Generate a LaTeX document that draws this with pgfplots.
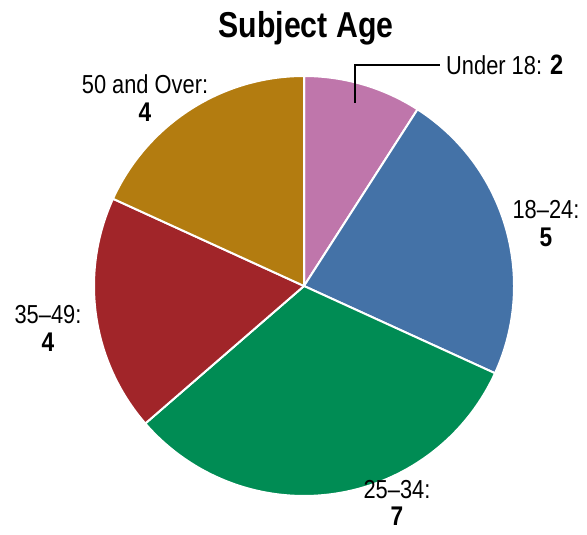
\documentclass[border=0pt]{standalone}
\usepackage{fontspec}
\usepackage{pgfplots}
\usepackage{pgfplotstable}
\pgfplotsset{compat=1.18}
\setmainfont{Liberation Sans}
\newfontfamily\narrow[FakeStretch=0.84]{Liberation Sans}
\definecolor{cpink}{RGB}{191,118,171}
\definecolor{cblue}{RGB}{68,114,167}
\definecolor{cgreen}{RGB}{0,140,84}
\definecolor{cred}{RGB}{161,37,41}
\definecolor{cgold}{RGB}{179,124,16}
\pgfplotstableread{
label value
Under18 2
18-24 5
25-34 7
35-49 4
50plus 4
}\agedata
\begin{document}
\begin{tikzpicture}
% read values and compute cumulative angles (start at 90 deg, clockwise)
\pgfplotstablegetelem{0}{value}\of\agedata\global\let\vA\pgfplotsretval
\pgfplotstablegetelem{1}{value}\of\agedata\global\let\vB\pgfplotsretval
\pgfplotstablegetelem{2}{value}\of\agedata\global\let\vC\pgfplotsretval
\pgfplotstablegetelem{3}{value}\of\agedata\global\let\vD\pgfplotsretval
\pgfplotstablegetelem{4}{value}\of\agedata\global\let\vE\pgfplotsretval
\pgfmathsetmacro\total{\vA+\vB+\vC+\vD+\vE}
\pgfmathsetmacro\aA{90}
\pgfmathsetmacro\aB{\aA-360*\vA/\total}
\pgfmathsetmacro\aC{\aB-360*\vB/\total}
\pgfmathsetmacro\aD{\aC-360*\vC/\total}
\pgfmathsetmacro\aE{\aD-360*\vD/\total}
\pgfmathsetmacro\aF{\aE-360*\vE/\total}
\begin{axis}[
  width=587pt, height=535pt, scale only axis,
  xmin=0, xmax=587, ymin=0, ymax=535,
  hide axis, clip=false,
]
\path (axis cs:0,0) rectangle (axis cs:587,535);
\def\R{210pt}
\tikzset{wedge/.style={draw=white, line width=2pt, line join=round}}
\fill[wedge, fill=cpink]  (axis cs:304,249) -- ++(\aA:\R) arc[start angle=\aA, end angle=\aB, radius=\R] -- cycle;
\fill[wedge, fill=cblue]  (axis cs:304,249) -- ++(\aB:\R) arc[start angle=\aB, end angle=\aC, radius=\R] -- cycle;
\fill[wedge, fill=cgreen] (axis cs:304,249) -- ++(\aC:\R) arc[start angle=\aC, end angle=\aD, radius=\R] -- cycle;
\fill[wedge, fill=cred]   (axis cs:304,249) -- ++(\aD:\R) arc[start angle=\aD, end angle=\aE, radius=\R] -- cycle;
\fill[wedge, fill=cgold]  (axis cs:304,249) -- ++(\aE:\R) arc[start angle=\aE, end angle=\aF, radius=\R] -- cycle;
% title
\node[anchor=base, inner sep=0pt, font=\narrow\bfseries\fontsize{36}{40}\selectfont] at (axis cs:306,497) {Subject Age};
% leader for Under 18
\draw[black, line width=1.5pt] (axis cs:355,432) -- (axis cs:355,470) -- (axis cs:440,470);
\tikzset{lab/.style={anchor=base, font=\narrow\fontsize{26}{30}\selectfont, inner sep=0pt},
         num/.style={anchor=base, font=\narrow\bfseries\fontsize{27}{30}\selectfont, inner sep=0pt}}
\node[lab, anchor=base west] at (axis cs:446,460) {Under 18: {\bfseries\fontsize{28}{30}\selectfont\vA}};
\node[lab] at (axis cs:145,441) {50 and Over:};
\node[num] at (axis cs:145,413) {\vE};
\node[lab] at (axis cs:48,211) {35–49:};
\node[num] at (axis cs:48,183) {\vD};
\node[lab] at (axis cs:546,316) {18–24:};
\node[num] at (axis cs:546,288) {\vB};
\node[lab] at (axis cs:397,36) {25–34:};
\node[num] at (axis cs:397,9) {\vC};
\end{axis}
\end{tikzpicture}
\end{document}
